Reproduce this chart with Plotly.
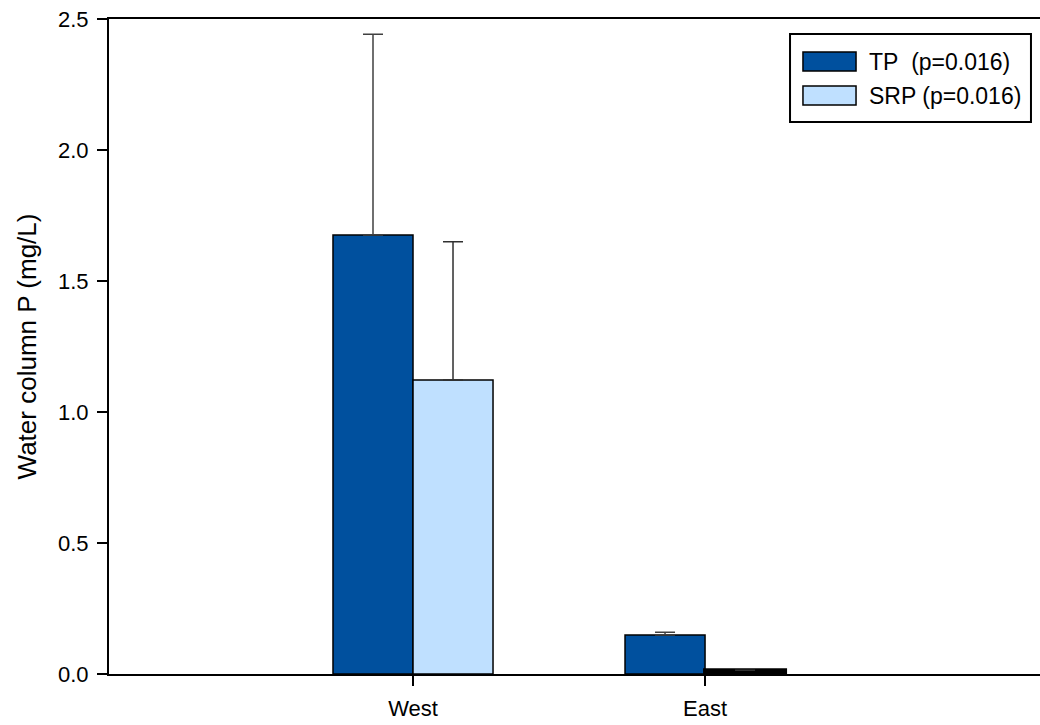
import plotly.graph_objects as go

# Sites and water-column phosphorus (mean and +SD), mg/L
sites = ["West", "East"]
tp_mean = [1.676, 0.149]
tp_sd = [0.766, 0.010]
srp_mean = [1.122, 0.014]
srp_sd = [0.528, 0.0]
legend_labels = ["TP  (p=0.016)", "SRP (p=0.016)"]

TP_COLOR = "#00509E"
SRP_COLOR = "#BFE0FF"
FONT = "Liberation Sans, Arial, sans-serif"

fig = go.Figure()
fig.add_trace(go.Bar(
    x=sites, y=tp_mean, name=legend_labels[0],
    marker=dict(color=TP_COLOR, line=dict(color="black", width=1.5)),
    error_y=dict(type="data", array=tp_sd, symmetric=False, arrayminus=[0, 0],
                 color="#404040", thickness=1.5, width=10),
    showlegend=False,
))
fig.add_trace(go.Bar(
    x=sites, y=srp_mean, name=legend_labels[1],
    marker=dict(color=SRP_COLOR, line=dict(color="black", width=[1.5, 4])),
    error_y=dict(type="data", array=srp_sd, symmetric=False, arrayminus=[0, 0],
                 color="#303030", thickness=1.5, width=10),
    showlegend=False,
))

fig.update_layout(
    width=1040, height=725,
    margin=dict(l=109, r=0, t=19, b=51),
    paper_bgcolor="white", plot_bgcolor="white",
    barmode="group", bargap=0.452, bargroupgap=0,
    font=dict(family=FONT, size=22, color="black"),
    xaxis=dict(
        type="category", range=[-1.041, 2.147],
        showline=True, linecolor="black", linewidth=2, mirror=True,
        ticks="outside", ticklen=10, tickwidth=2, tickcolor="black",
        showgrid=False, zeroline=False, ticklabelstandoff=4,
        tickfont=dict(family=FONT, size=22),
    ),
    yaxis=dict(
        range=[0, 2.5], tickvals=[0, 0.5, 1.0, 1.5, 2.0, 2.5],
        tickformat=".1f",
        showline=True, linecolor="black", linewidth=2, mirror=False,
        ticks="outside", ticklen=10, tickwidth=2, tickcolor="black",
        showgrid=False, zeroline=False, ticklabelstandoff=4,
        tickfont=dict(family=FONT, size=22),
        title=dict(text="Water column P (mg/L)", standoff=14,
                   font=dict(family=FONT, size=26)),
    ),
)

# Legend box drawn in paper coordinates
fig.add_shape(type="rect", xref="paper", yref="paper",
              x0=0.7315, x1=0.9903, y0=0.8427, y1=0.9771,
              line=dict(color="black", width=2), fillcolor="white", layer="above")
swatches = [(TP_COLOR, 0.9206, 0.9496, 0.9351), (SRP_COLOR, 0.8687, 0.8977, 0.8832)]
for (color, y0, y1, yt), label in zip(swatches, legend_labels):
    fig.add_shape(type="rect", xref="paper", yref="paper",
                  x0=0.7454, x1=0.8024, y0=y0, y1=y1,
                  line=dict(color="black", width=1.5), fillcolor=color, layer="above")
    fig.add_annotation(xref="paper", yref="paper", x=0.8142, y=yt,
                       text=label.replace("  ", "&nbsp; "), showarrow=False,
                       xanchor="left", yanchor="middle",
                       font=dict(family=FONT, size=23, color="black"))

fig.write_html("out.html")
